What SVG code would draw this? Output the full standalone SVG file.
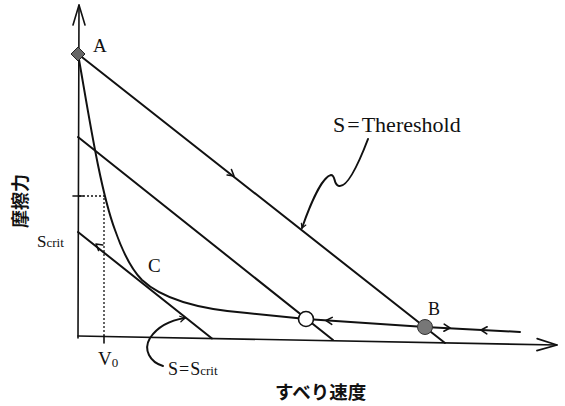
<svg xmlns="http://www.w3.org/2000/svg" xmlns:xlink="http://www.w3.org/1999/xlink" width="565" height="406" viewBox="0 0 565 406">
<style>
.ln{fill:none;stroke:#111;stroke-width:2;stroke-linecap:round;stroke-linejoin:round}
.ax{fill:none;stroke:#111;stroke-width:1.6;stroke-linecap:round}
.dot{fill:none;stroke:#111;stroke-width:1.3;stroke-dasharray:2 2}
.ch{fill:none;stroke:#111;stroke-width:1.6;stroke-linecap:round;stroke-linejoin:round}
.t{font-family:"Liberation Serif","Times New Roman",serif;fill:#111}
.j{font-family:"Noto Sans CJK JP",sans-serif;font-weight:bold;fill:#111}
</style>
<defs>
<path id="chev" d="M-6,-3.5 L0,0 L-6,3.5"/>
<path id="bigchev" d="M-20,-6 L0,0 L-20,6"/>
</defs>
<rect width="565" height="406" fill="#fff"/>
<g id="connectors">
<line class="ax" x1="78" y1="338" x2="79" y2="5"/>
<use href="#bigchev" class="ch" transform="translate(79,5) rotate(-90)"/>
<line class="ax" x1="78" y1="336" x2="557" y2="345"/>
<use href="#bigchev" class="ch" transform="translate(557,345) rotate(1.1)"/>
<line class="ax" x1="73" y1="196" x2="83" y2="196"/>
<line class="ax" x1="104" y1="336" x2="104" y2="343"/>
<line class="dot" x1="79" y1="196" x2="105" y2="196"/>
<line class="dot" x1="104" y1="198" x2="104" y2="337"/>
<line class="ln" x1="78" y1="54" x2="445" y2="343"/>
<line class="ln" x1="78" y1="137" x2="333" y2="340"/>
<line class="ln" x1="78" y1="232" x2="212" y2="338.5"/>
<path class="ln" d="M78,54 C88,110 100,190 115,230 C122,250 130,268 142,280 C160,297 195,309 247,313 L306,319 L425,327 L520,332"/>
<use href="#chev" class="ch" transform="translate(234,176) rotate(38.2)"/>
<use href="#chev" class="ch" transform="translate(96,244) rotate(218)"/>
<use href="#chev" class="ch" transform="translate(326,320.5) rotate(183.8)"/>
<use href="#chev" class="ch" transform="translate(450,328) rotate(3)"/>
<use href="#chev" class="ch" transform="translate(481,330) rotate(183)"/>
<path class="ln" stroke-width="1.8" d="M368,139 C360,160 348,188 339,186 C333,185 336,175 331,175 C322,177 310,205 302,228"/>
<use href="#chev" class="ch" transform="translate(302,228) rotate(112) scale(0.7)"/>
<path class="ln" stroke-width="1.8" d="M163,366 C150,362 143,350 150,338 C158,326 172,320 185,318"/>
<use href="#chev" class="ch" transform="translate(185,318) rotate(-12) scale(0.8)"/>
</g>
<g id="nodeA">
<path d="M78,47 L85,54 L78,61 L71,54 Z" fill="#666" stroke="#222" stroke-width="1"/>
<text class="t" x="93" y="52" font-size="19">A</text>
</g>
<g id="nodeB">
<circle cx="425" cy="327" r="7.5" fill="#777" stroke="#333" stroke-width="1"/>
<text class="t" x="428" y="315" font-size="18">B</text>
</g>
<g id="nodeC">
<text class="t" x="148" y="272" font-size="19">C</text>
</g>
<g id="nodeO">
<circle cx="306" cy="319" r="7.5" fill="#fff" stroke="#111" stroke-width="1.6"/>
</g>
<g id="labels">
<text class="t" x="333" y="132" font-size="22">S<tspan dx="2">=</tspan><tspan dx="2">Thereshold</tspan></text>
<text class="t" x="37" y="247" font-size="17">S<tspan font-size="13">crit</tspan></text>
<text class="t" x="98" y="365" font-size="19">V<tspan font-size="13" dy="2">0</tspan></text>
<text class="t" x="168" y="375" font-size="18">S<tspan dx="1">=</tspan><tspan dx="1">S</tspan><tspan font-size="13">crit</tspan></text>
<text class="j" font-size="18" transform="translate(27,228) rotate(-90)">摩擦力</text>
<text class="j" x="275" y="399" font-size="18.5">すべり速度</text>
</g>
</svg>
